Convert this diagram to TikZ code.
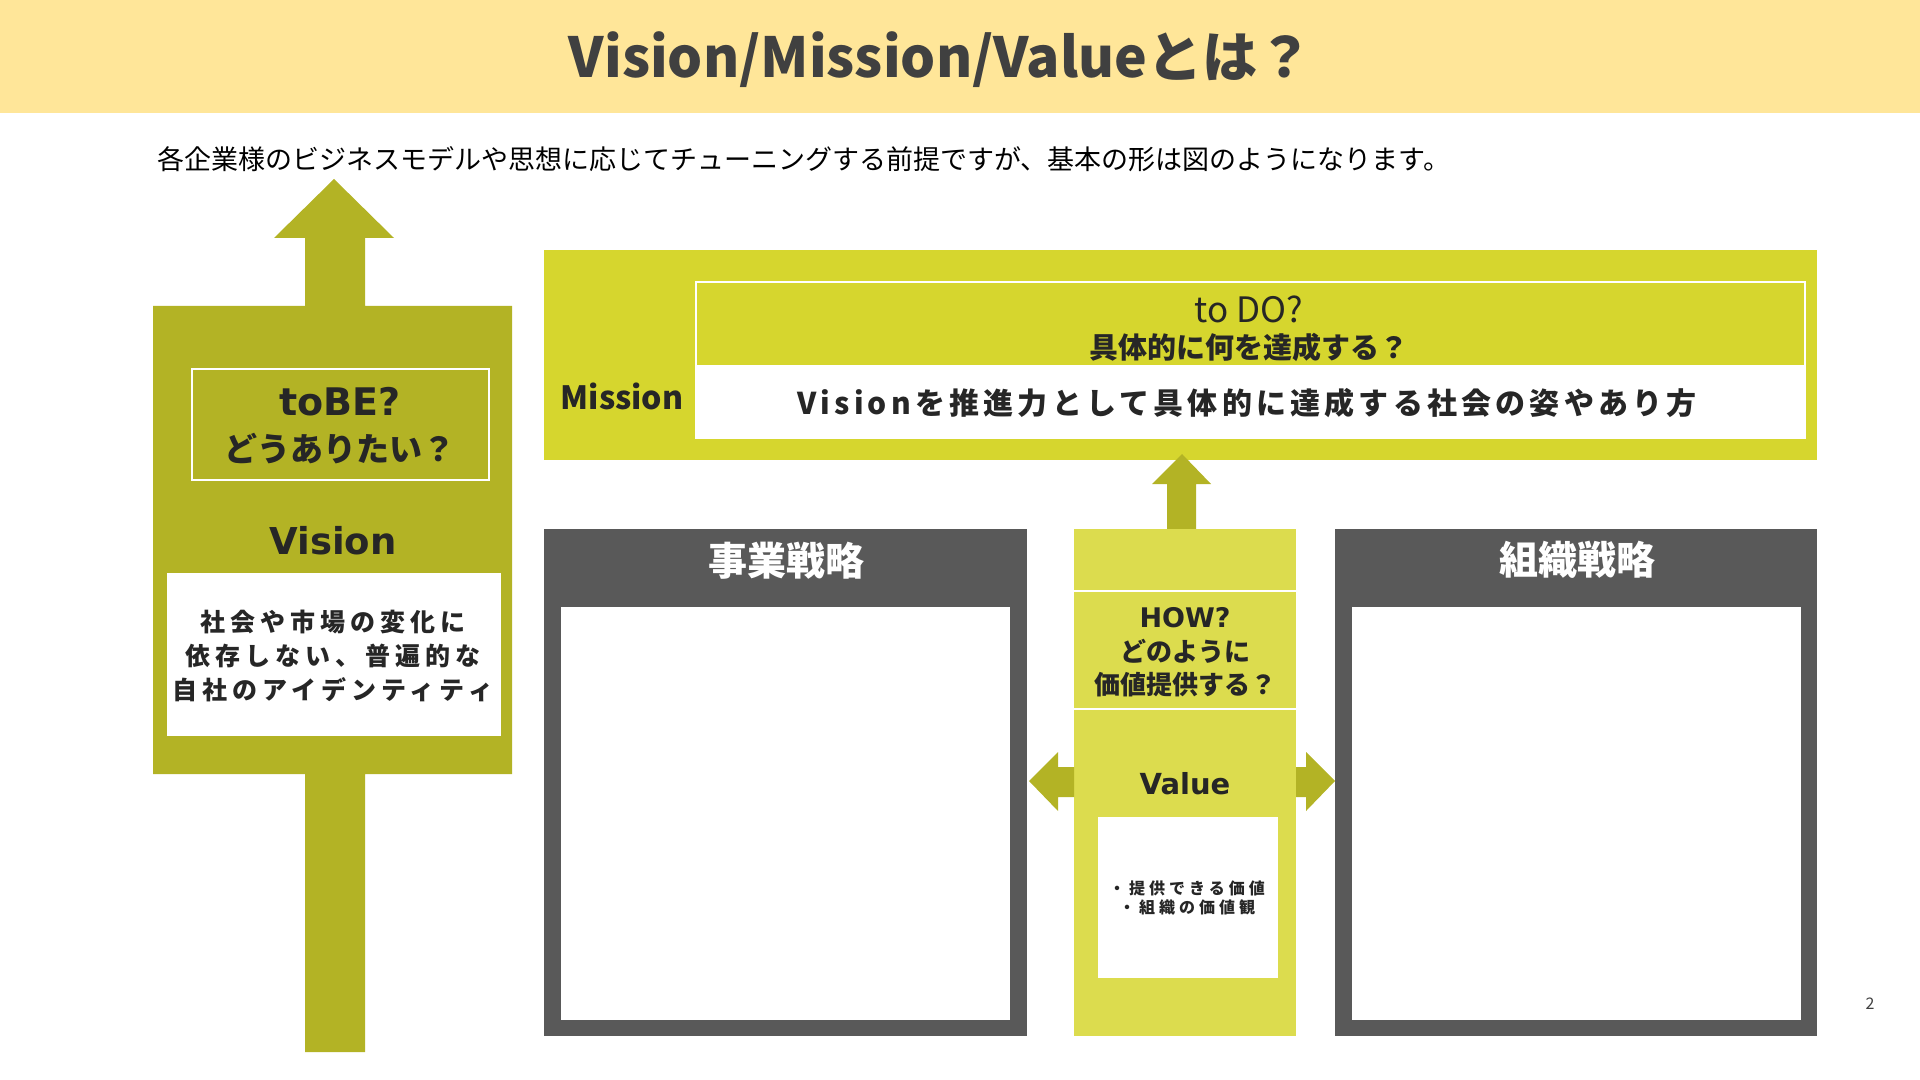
\documentclass[tikz,border=0pt]{standalone}
\usepackage{fontspec}
\newfontfamily\jp{Noto Sans CJK JP}
\newfontfamily\jpsp{Noto Sans CJK JP}[LetterSpace=14]
\newfontfamily\jpspb{Noto Sans CJK JP}[LetterSpace=20]
\newfontfamily\jpspc{Noto Sans CJK JP}[LetterSpace=25]
\newfontfamily\dv{DejaVu Sans}
\definecolor{band}{HTML}{FFE699}
\definecolor{olive}{HTML}{B3B325}
\definecolor{mission}{HTML}{D6D62E}
\definecolor{valuecol}{HTML}{DCDC4E}
\definecolor{boxgray}{HTML}{595959}
\definecolor{titlegray}{HTML}{404040}
\definecolor{ink}{HTML}{262626}
\begin{document}
\begin{tikzpicture}[x=0.5pt,y=-0.5pt,
  lbl/.style={inner sep=0pt, text=ink, align=center}]
\useasboundingbox (0,0) rectangle (1920,1080);
% header band
\fill[band] (0,0) rectangle (1920,113);
\node[lbl, text=titlegray, font=\jp\bfseries\fontsize{27.6}{32}\selectfont] (title) at (941,60) {Vision/Mission/Valueとは？};
\node[lbl, anchor=west, text=black, font=\jp\fontsize{13.5}{16}\selectfont] (sub) at (157,159) {各企業様のビジネスモデルや思想に応じてチューニングする前提ですが、基本の形は図のようになります。};
% left column (Vision)
\fill[olive] (334,179) -- (394,238) -- (365,238) -- (365,306) -- (512,306) -- (512,774) -- (365,774) -- (365,1052) -- (305,1052) -- (305,774) -- (153,774) -- (153,306) -- (305,306) -- (305,238) -- (274,238) -- cycle;
\draw[white, line width=0.7pt] (192,369) rectangle (489,480);
\node[lbl, font=\dv\bfseries\fontsize{19}{21}\selectfont] (tobe) at (340,402) {toBE?};
\node[lbl, font=\jp\bfseries\fontsize{16.5}{19}\selectfont] (tobejp) at (340,449) {どうありたい？};
\node[lbl, font=\dv\bfseries\fontsize{18.5}{21}\selectfont] (vision) at (333,541) {Vision};
\fill[white] (167,573) rectangle (501,736);
\node[lbl, font=\jpspb\bfseries\fontsize{12.5}{17}\selectfont] (visiontxt) at (333,656) {社会や市場の変化に\\依存しない、普遍的な\\自社のアイデンティティ};
% Mission
\fill[mission] (544,250) rectangle (1817,460);
\fill[white] (696,365) rectangle (1805,438);
\draw[white, line width=0.8pt] (696,282) rectangle (1805,438);
\node[lbl, font=\jp\fontsize{17.5}{20}\selectfont] (todo) at (1249,309) {to DO?};
\node[lbl, font=\jp\bfseries\fontsize{14.5}{17}\selectfont] (todojp) at (1249,347) {具体的に何を達成する？};
\node[lbl, font=\jp\bfseries\fontsize{16}{18}\selectfont] (mlabel) at (622,396) {Mission};
\node[lbl, font=\jpsp\bfseries\fontsize{15}{18}\selectfont] (mtxt) at (1247,403) {Visionを推進力として具体的に達成する社会の姿やあり方};
% small up arrow
\fill[olive] (1182,454) -- (1211,484) -- (1196,484) -- (1196,529) -- (1167,529) -- (1167,484) -- (1152,484) -- cycle;
% Value column
\fill[valuecol] (1074,529) rectangle (1296,1036);
\draw[white, line width=1pt] (1074,591) -- (1296,591);
\draw[white, line width=1pt] (1074,709) -- (1296,709);
\node[lbl, font=\dv\bfseries\fontsize{13.5}{16}\selectfont] (how) at (1185,618) {HOW?};
\node[lbl, font=\jp\bfseries\fontsize{13}{16.5}\selectfont] (howjp) at (1185,668) {どのように\\価値提供する？};
\node[lbl, font=\dv\bfseries\fontsize{14.5}{17}\selectfont] (value) at (1185,784) {Value};
\fill[white] (1098,817) rectangle (1278,978);
\node[lbl, font=\jpspc\bfseries\fontsize{8}{9.5}\selectfont] (valtxt) at (1187,898) {・提供できる価値\\・組織の価値観};
% side arrows
\fill[olive] (1029,781) -- (1058,752) -- (1058,767) -- (1074,767) -- (1074,797) -- (1058,797) -- (1058,811) -- cycle;
\fill[olive] (1335,781) -- (1306,752) -- (1306,767) -- (1296,767) -- (1296,797) -- (1306,797) -- (1306,811) -- cycle;
% Business strategy
\fill[boxgray] (544,529) rectangle (1027,1036);
\fill[white] (561,607) rectangle (1010,1020);
\node[lbl, text=white, font=\jp\bfseries\fontsize{19.5}{22}\selectfont] (biz) at (786,561) {事業戦略};
% Organization strategy
\fill[boxgray] (1335,529) rectangle (1817,1036);
\fill[white] (1352,607) rectangle (1801,1020);
\node[lbl, text=white, font=\jp\bfseries\fontsize{19.5}{22}\selectfont] (org) at (1577,560) {組織戦略};
% page number
\node[lbl, text=titlegray, font=\jp\fontsize{8}{10}\selectfont] (page) at (1870,1004) {2};
\end{tikzpicture}
\end{document}
